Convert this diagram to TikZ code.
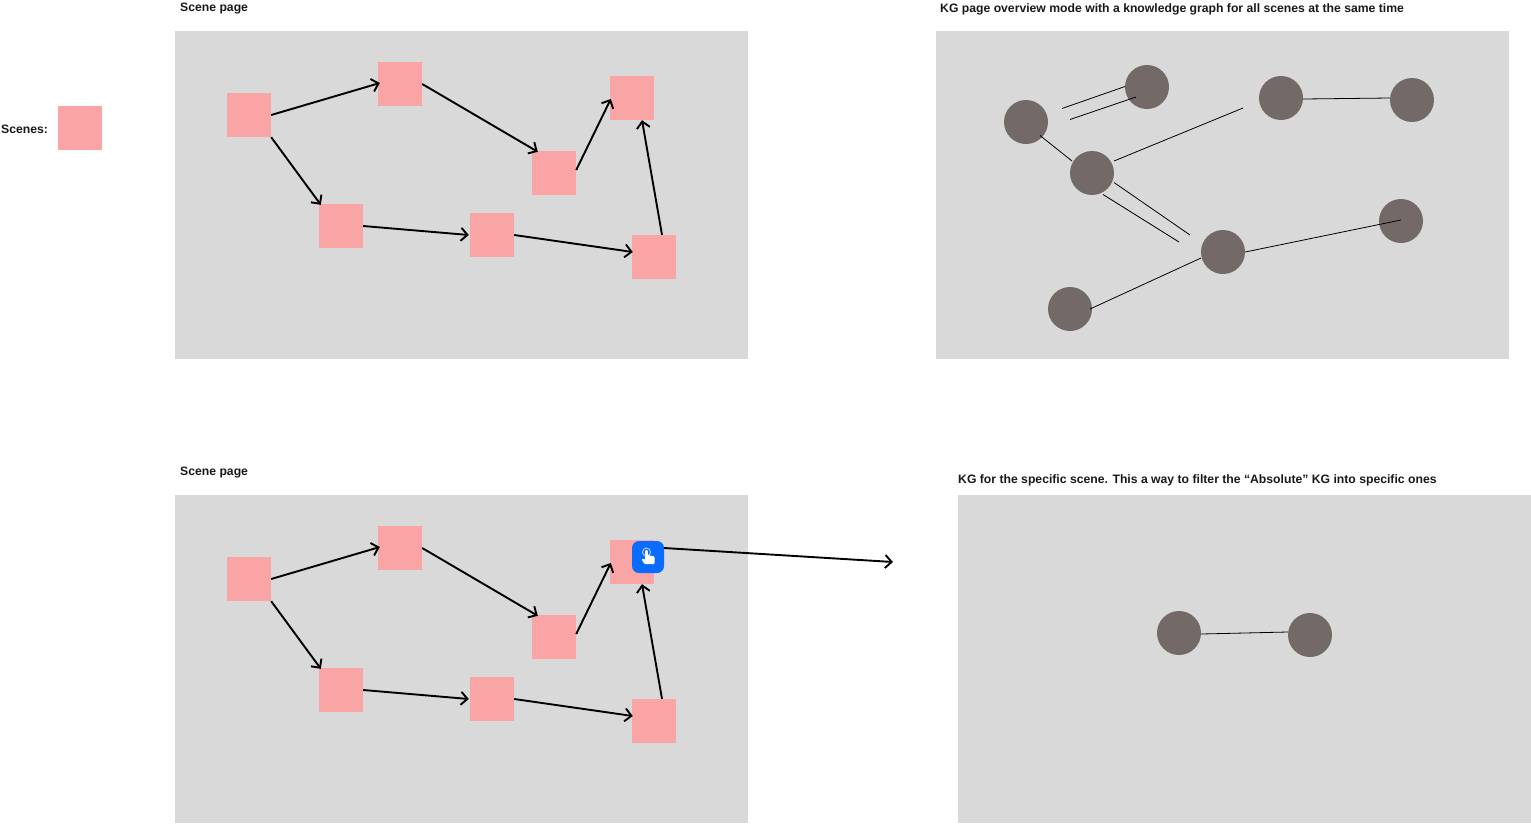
\documentclass[tikz,border=0pt]{standalone}
\usepackage{fontspec}
\setmainfont{Liberation Sans}
\usepackage{xcolor}
\usetikzlibrary{arrows.meta}
\definecolor{panelgray}{HTML}{D9D9D9}
\definecolor{scenepink}{HTML}{FAA5A5}
\definecolor{kgbrown}{HTML}{736967}
\definecolor{touchblue}{HTML}{0A6CFF}
\tikzset{
    x=1pt, y=-1pt,
    panel/.style = {fill=panelgray, draw=none, rectangle, minimum width=573pt, minimum height=328pt, inner sep=0pt},
    page-title/.style = {anchor=west, inner sep=0pt, font=\fontsize{12.2}{14}\selectfont\bfseries, text=black!90},
    scene/.style = {fill=scenepink, draw=none, rectangle, minimum size=44pt, inner sep=0pt},
    kg-node/.style = {fill=kgbrown, draw=none, circle, minimum size=44pt, inner sep=0pt},
    flow/.style = {draw=black, line width=1.9pt, -{Straight Barb[length=6.5pt,width=13pt,line width=1.9pt]}},
    edge/.style = {draw=black, line width=0.8pt},
}
\begin{document}
\begin{tikzpicture}
\useasboundingbox (0,0) rectangle (1531,823);
% panels
\node [panel] (topleft) at (461.5,195) {};
\node [panel] (topright) at (1222.5,195) {};
\node [panel] (botleft) at (461.5,659) {};
\node [panel] (botright) at (1244.5,659) {};
% titles
\node [page-title] (t1) at (180,9) {Scene page};
\node [page-title] (t2) at (940,9) {KG page overview mode with a knowledge graph for all scenes at the same time};
\node [page-title] (t3) at (180,473) {Scene page};
\node [page-title] (t4) at (958,480) {KG for the specific scene. This a way to filter the “Absolute” KG into specific ones};
\node [page-title] (legend) at (1,129) {Scenes:};
\node [scene] (legendbox) at (80,128) {};
% both scene pages
\foreach \pg/\dy in {a/0,b/464} {
    \node [scene] (\pg1) at (249,115+\dy) {};
    \node [scene] (\pg2) at (400,84+\dy) {};
    \node [scene] (\pg3) at (554,173+\dy) {};
    \node [scene] (\pg4) at (632,98+\dy) {};
    \node [scene] (\pg5) at (654,257+\dy) {};
    \node [scene] (\pg6) at (341,226+\dy) {};
    \node [scene] (\pg7) at (492,235+\dy) {};
    \draw [flow] (\pg1.east) -- ([xshift=2pt,yshift=1pt]\pg2.west);
    \draw [flow] (\pg2.east) -- ([xshift=6pt,yshift=-1pt]\pg3.north west);
    \draw [flow] ([yshift=3pt]\pg3.east) -- ([xshift=1pt,yshift=-1pt]\pg4.west);
    \draw [flow] ([xshift=8pt]\pg5.north) -- ([xshift=10pt]\pg4.south);
    \draw [flow] (\pg1.south east) -- ([xshift=2pt,yshift=-1pt]\pg6.north west);
    \draw [flow] (\pg6.east) -- ([xshift=-1pt]\pg7.west);
    \draw [flow] (\pg7.east) -- ([xshift=1pt,yshift=5pt]\pg5.west);
}
% overview graph
\node [kg-node] (k1) at (1026,122) {};
\node [kg-node] (k2) at (1147,87) {};
\node [kg-node] (k3) at (1092,173) {};
\node [kg-node] (k4) at (1281,98) {};
\node [kg-node] (k5) at (1412,100) {};
\node [kg-node] (k6) at (1223,252) {};
\node [kg-node] (k7) at (1401,221) {};
\node [kg-node] (k8) at (1070,309) {};
\coordinate (d1) at (1062,108.5);
\coordinate (d2) at (1125,86.5);
\coordinate (d3) at (1070,119.5);
\coordinate (d4) at (1136,97);
\coordinate (d5) at (1243,108);
\coordinate (d6) at (1190,235);
\coordinate (d7) at (1179,242);
\coordinate (d8) at (1114,182.5);
\coordinate (d9) at (1103,194.5);
\coordinate (d10) at (1401,220);
\coordinate (d11) at (1040,135.5);
\coordinate (d12) at (1072,161);
\coordinate (d13) at (1114,161);
\coordinate (d14) at (1201,258);
\coordinate (d15) at (1090,309);
\draw [edge] (d1) -- (d2);
\draw [edge] (d3) -- (d4);
\draw [edge] (d11) -- (d12);
\draw [edge] (d13) -- (d5);
\draw [edge] (d8) -- (d6);
\draw [edge] (d9) -- (d7);
\draw [edge] ([yshift=-1pt]k4.east) -- ([yshift=2pt]k5.west);
\draw [edge] (d14) -- (d15);
\draw [edge] (k6.east) -- (d10);
% filtered graph
\node [kg-node] (f1) at (1179,633) {};
\node [kg-node] (f2) at (1310,635) {};
\draw [edge] ([yshift=-1pt]f1.east) -- ([yshift=3pt]f2.west);
% touch icon
\coordinate (target) at (893,562);
\node [fill=touchblue, rectangle, rounded corners=7pt, minimum size=32pt, inner sep=0pt] (touch) at (648,557) {};
\draw [flow] (664,548) -- (target);
\draw [white!75!touchblue, line width=0.8pt] (646.5,552) circle (4);
\fill [white, rounded corners=0.8pt] (645.2,550) -- (647.8,550) -- (647.8,555) -- (654.5,556.5) -- (654.5,564) -- (644.5,564) -- (641.5,559.5) -- (643,558.5) -- (645.2,560) -- cycle;
\end{tikzpicture}
\end{document}
